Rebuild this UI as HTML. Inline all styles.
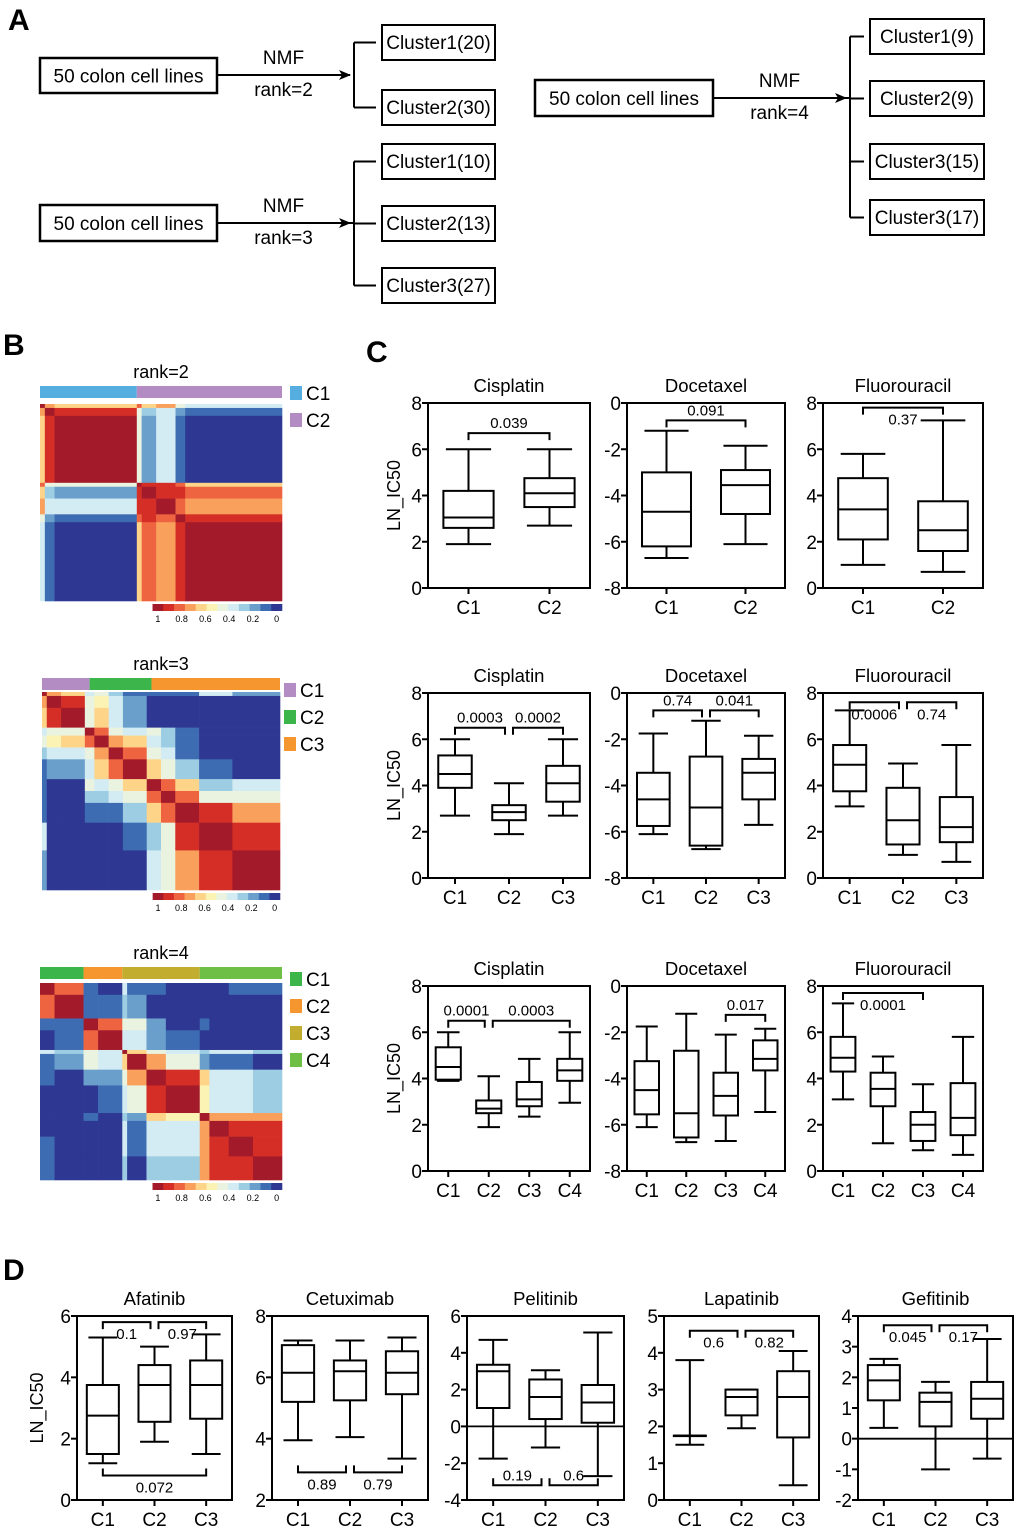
<!DOCTYPE html>
<html><head><meta charset="utf-8"><style>
body{margin:0;background:#fff}
svg{display:block;font-family:"Liberation Sans",Arial,sans-serif}
</style></head><body>
<svg id="fig" width="1020" height="1532" viewBox="0 0 1020 1532" xmlns="http://www.w3.org/2000/svg">
<defs><marker id="arr" markerWidth="12" markerHeight="10" refX="11" refY="5" orient="auto" markerUnits="userSpaceOnUse"><path d="M0,0 L12,5 L0,10 L3,5 Z" fill="#000"/></marker></defs>
<g font-weight="bold" font-size="30">
<text x="8" y="30">A</text>
<text x="3" y="355">B</text>
<text x="366" y="362">C</text>
<text x="3" y="1280">D</text>
</g>
<g id="flow" font-size="19" stroke-width="2"></g>
<g id="heat"></g>
<g id="boxes"></g>
</svg>
<script>
// ---------- Panel A data ----------
const flowGroups = [
  {rank:'rank=2', box:[40,58,177,35], arrowY:75, arrowEnd:350, brX:354, clusters:['Cluster1(20)','Cluster2(30)'], cy:[25,90], cx:382, cw:113},
  {rank:'rank=3', box:[40,205,177,36], arrowY:223, arrowEnd:350, brX:354, clusters:['Cluster1(10)','Cluster2(13)','Cluster3(27)'], cy:[144,206,268], cx:382, cw:113},
  {rank:'rank=4', box:[535,80,178,36], arrowY:98, arrowEnd:846, brX:850, clusters:['Cluster1(9)','Cluster2(9)','Cluster3(15)','Cluster3(17)'], cy:[19,81,144,200], cx:870, cw:114}
];
const NS='http://www.w3.org/2000/svg';
function mk(parent,tag,attrs,text){const e=document.createElementNS(NS,tag);for(const k in attrs)e.setAttribute(k,attrs[k]);if(text!==undefined)e.textContent=text;parent.appendChild(e);return e;}
const flow=document.getElementById('flow');
flowGroups.forEach((g,gi)=>{
  const G=mk(flow,'g',{});
  
  
  const [bx,by,bw,bh]=g.box;
  const r=mk(G,'rect',{x:bx,y:by,width:bw,height:bh,fill:'#fff',stroke:'#000','stroke-width':2.5});
  
  
  const t=mk(G,'text',{x:bx+bw/2,y:by+bh/2+7,'text-anchor':'middle','font-size':19},'50 colon cell lines');
  
  
  const a=mk(G,'line',{x1:bx+bw,y1:g.arrowY,x2:g.arrowEnd,y2:g.arrowY,stroke:'#000','stroke-width':2,'marker-end':'url(#arr)'});
  
  
  const mid=(bx+bw+g.arrowEnd)/2;
  const n=mk(G,'text',{x:mid,y:g.arrowY-11,'text-anchor':'middle','font-size':19},'NMF');
  
  
  const rk=mk(G,'text',{x:mid,y:g.arrowY+21,'text-anchor':'middle','font-size':19},g.rank);
  
  
  const ch=g.cy.map(y=>y+17.5);
  mk(G,'line',{x1:g.brX,y1:ch[0],x2:g.brX,y2:ch[ch.length-1],stroke:'#000','stroke-width':2});
  if(gi>0) mk(G,'line',{x1:g.arrowEnd,y1:g.arrowY,x2:g.brX,y2:g.arrowY,stroke:'#000','stroke-width':2});
  g.clusters.forEach((c,i)=>{
    mk(G,'line',{x1:g.brX,y1:ch[i],x2:g.cx-6,y2:ch[i],stroke:'#000','stroke-width':2});
    const cr=mk(G,'rect',{x:g.cx,y:g.cy[i],width:g.cw,height:35,fill:'#fff',stroke:'#000','stroke-width':2});
    
    
    const ct=mk(G,'text',{x:g.cx+g.cw/2,y:g.cy[i]+24,'text-anchor':'middle','font-size':19},c);
    
    
  });
});

// ---------- Panel B heatmap data ----------
const heatColors=['#a31b2a','#d52e26','#ef6440','#f8a05c','#fdd488','#fbf3b4','#eaf3e0','#d3ebf3','#9dcde3','#6a9fcc','#3e6cb2','#2e3791'];
const rank2Sizes=[1,2,17,1,3,4,2,20];
const rank2Vals=[
 [1,.75,.65,.8,.65,.75,.5,.4],
 [.75,1,.9,.45,.3,.4,.2,.15],
 [.65,.9,1,.45,.25,.35,.15,0],
 [.8,.45,.45,1,.85,.85,.8,.65],
 [.65,.3,.25,.85,1,.9,.85,.8],
 [.75,.4,.35,.85,.9,1,.8,.7],
 [.5,.2,.15,.8,.85,.8,1,.9],
 [.4,.15,0,.65,.8,.7,.9,1]];
const rank3Sizes=[1,3,5,2,3,3,5,3,3,5,7,10];
const rank3Upper=[
 [1,.7,.6,.4,.5,.3,.15,.1,.1,.15,.35,.25],
 [1,.9,.5,.55,.35,.2,0,0,0,.05,.05],
 [1,.45,.6,.4,.25,0,0,0,0,0],
 [.95,.8,.5,.35,.45,.3,.1,0,0],
 [.95,.75,.6,.4,.3,.1,0,0],
 [.95,.8,.5,.35,.1,0,0],
 [1,.6,.5,.3,.15,0],
 [.95,.8,.6,.3,.35],
 [.95,.8,.45,.5],
 [1,.85,.7],
 [1,.9],
 [1]];
const rank4Sizes=[3,6,3,5,1,4,4,7,2,4,5,6];
const rank4Upper=[
 [1,.8,.1,.05,.4,.1,.1,0,0,.05,.1,.1],
 [.95,.1,.1,.3,.2,0,0,.05,0,0,0],
 [.95,.8,.5,.45,.25,0,.1,0,0,0],
 [.95,.4,.4,.25,.1,0,0,0,0],
 [1,.6,.5,.4,.3,.4,.35,.3],
 [.95,.7,.45,.2,.15,.1,.05],
 [.95,.85,.6,.4,.35,.3],
 [1,.55,.4,.4,.3],
 [.95,.75,.7,.7],
 [1,.85,.9],
 [1,.9],
 [1]];
const rank2Bar=[['#56aee0',20],['#b48cc4',30]];
const rank3Bar=[['#b48cc4',10],['#3cb54a',13],['#f5962f',27]];
const rank4Bar=[['#3cb54a',9],['#f5962f',8],['#c2ad2e',16],['#6dbf45',17]];
const colorbarLabels=['1','0.8','0.6','0.4','0.2','0'];

function fullFromUpper(u){const n=u.length;const m=[];for(let i=0;i<n;i++){m.push([]);for(let j=0;j<n;j++){m[i].push(j>=i?u[i][j-i]:u[j][i-j]);}}return m;}
const heat=document.getElementById('heat');
function colorFor(v){let k=Math.floor((1-v)*12);if(k<0)k=0;if(k>11)k=11;return heatColors[k];}
function drawHeat(title,sizes,vals,bar,L){
  const G=mk(heat,'g',{});
  
  
  const tt=mk(G,'text',{x:(L.x0+L.x1)/2,y:L.barY-8,'text-anchor':'middle','font-size':18},title);
  
  
  const total=bar.reduce((s,b)=>s+b[1],0);
  let acc=0;
  bar.forEach((b,i)=>{
    const xa=L.x0+(L.x1-L.x0)*acc/total;acc+=b[1];const xb=L.x0+(L.x1-L.x0)*acc/total;
    const r=mk(G,'rect',{x:xa,y:L.barY,width:xb-xa,height:12,fill:b[0]});
    
    
    const lr=mk(G,'rect',{x:L.legX,y:L.legY+i*27,width:12,height:14,fill:b[0]});
    
    
    const lt=mk(G,'text',{x:L.legX+16,y:L.legY+i*27+14,'font-size':19},'C'+(i+1));
    
    
  });
  const N=sizes.reduce((s,v)=>s+v,0);
  const sx=(L.x1-L.x0)/N, sy=(L.y1-L.y0)/N;
  let ai=0;
  for(let i=0;i<sizes.length;i++){
    let aj=0;
    for(let j=0;j<sizes.length;j++){
      const c=mk(G,'rect',{x:L.x0+aj*sx,y:L.y0+ai*sy,width:sizes[j]*sx+0.3,height:sizes[i]*sy+0.3,fill:colorFor(vals[i][j])});
      
      
      aj+=sizes[j];
    }
    ai+=sizes[i];
  }
  const cbx0=L.x0+(L.x1-L.x0)*0.465, cw=(L.x1-cbx0)/12;
  heatColors.forEach((c,k)=>{
    const r=mk(G,'rect',{x:cbx0+k*cw,y:L.y1+3,width:cw+0.3,height:7,fill:c});
    
    
  });
  colorbarLabels.forEach((t,k)=>{
    const x=cbx0+cw*0.5+k*(L.x1-cbx0-cw)/5;
    const e=mk(G,'text',{x:x,y:L.y1+21,'text-anchor':'middle','font-size':9},t);
    
    
  });
}
drawHeat('rank=2',rank2Sizes,rank2Vals,rank2Bar,{x0:40,x1:282,y0:404,y1:601,barY:386,legX:290,legY:386});
drawHeat('rank=3',rank3Sizes,fullFromUpper(rank3Upper),rank3Bar,{x0:42,x1:280,y0:692,y1:890,barY:678,legX:284,legY:683});
drawHeat('rank=4',rank4Sizes,fullFromUpper(rank4Upper),rank4Bar,{x0:40,x1:282,y0:983,y1:1180,barY:967,legX:290,legY:972});

// ---------- Panel C/D boxplot data: [min,q1,median,q3,max] ----------
const cats2=['C1','C2'], cats3=['C1','C2','C3'], cats4=['C1','C2','C3','C4'];
const ticksPos=[0,2,4,6,8], ticksNeg=[-8,-6,-4,-2,0];
const cis2=[[1.9,2.6,3.05,4.2,6.0],[2.7,3.5,4.1,4.75,6.0]];
const doc2=[[-6.7,-6.2,-4.7,-3.0,-1.2],[-6.1,-4.8,-3.55,-2.9,-1.85]];
const flu2=[[1.0,2.1,3.4,4.75,5.8],[0.7,1.6,2.5,3.75,7.25]];
const cis3=[[2.7,3.9,4.5,5.3,6.0],[1.9,2.5,2.85,3.15,4.1],[2.7,3.3,4.1,4.85,6.0]];
const doc3=[[-6.1,-5.75,-4.6,-3.45,-1.75],[-6.75,-6.6,-4.95,-2.75,-1.2],[-5.7,-4.6,-3.45,-2.85,-1.85]];
const flu3=[[3.1,3.75,4.9,5.75,7.25],[1.0,1.45,2.5,3.9,4.95],[0.7,1.55,2.2,3.5,5.75]];
const cis4=[[3.9,3.95,4.5,5.35,6.0],[1.9,2.5,2.7,3.05,4.1],[2.35,2.8,3.1,3.85,4.85],[2.95,3.9,4.35,4.85,6.0]];
const doc4=[[-6.1,-5.55,-4.5,-3.25,-1.75],[-6.75,-6.55,-5.5,-2.8,-1.2],[-6.7,-5.6,-4.75,-3.75,-2.1],[-5.45,-3.65,-3.15,-2.35,-1.85]];
const flu4=[[3.1,4.3,4.9,5.8,7.25],[1.2,2.8,3.55,4.25,4.95],[0.9,1.3,2.0,2.55,3.75],[0.7,1.55,2.3,3.8,5.8]];
const afa=[[1.2,1.5,2.75,3.75,5.3],[1.9,2.55,3.75,4.4,5.0],[1.5,2.65,3.75,4.55,5.4]];
const cet=[[3.95,5.2,6.15,7.05,7.2],[4.05,5.25,6.2,6.55,7.2],[3.35,5.45,6.15,6.85,7.3]];
const pel=[[-1.75,1.0,3.0,3.35,4.7],[-1.15,0.4,1.6,2.55,3.05],[-2.7,0.2,1.3,2.25,5.1]];
const lap=[[1.5,1.75,1.75,1.75,3.8],[1.95,2.3,2.8,3.0,3.0],[0.4,1.7,2.8,3.5,4.05]];
const gef=[[0.35,1.25,1.9,2.4,2.6],[-1.0,0.4,1.2,1.5,1.85],[-0.65,0.65,1.3,1.85,3.25]];
// brackets: [fromCat, toCat, value, label, labelSide, tickDir]
const cis2Br=[[0,1,6.7,'0.039','above','down']];
const doc2Br=[[0,1,-0.75,'0.091','above','down']];
const flu2Br=[[0,1,7.8,'0.37','below','down']];
const cis3Br=[[0,1,6.5,'0.0003','above','down'],[1,2,6.5,'0.0002','above','down']];
const doc3Br=[[0,1,-0.75,'0.74','above','down'],[1,2,-0.75,'0.041','above','down']];
const flu3Br=[[0,1,7.6,'0.0006','below','down'],[1,2,7.6,'0.74','below','down']];
const cis4Br=[[0,1,6.5,'0.0001','above','down'],[1,3,6.5,'0.0003','above','down']];
const doc4Br=[[2,3,-1.25,'0.017','above','down']];
const flu4Br=[[0,2,7.7,'0.0001','below','down']];
const afaBr=[[0,1,5.8,'0.1','below','down'],[1,2,5.8,'0.97','below','down'],[0,2,0.8,'0.072','below','up']];
const cetBr=[[0,1,2.9,'0.89','below','up'],[1,2,2.9,'0.79','below','up']];
const pelBr=[[0,1,-3.2,'0.19','above','up'],[1,2,-3.2,'0.6','above','up']];
const lapBr=[[0,1,4.6,'0.6','below','down'],[1,2,4.6,'0.82','below','down']];
const gefBr=[[0,1,3.7,'0.045','below','down'],[1,2,3.7,'0.17','below','down']];

const boxes=document.getElementById('boxes');
function panel(o){
  const G=mk(boxes,'g',{});
  
  
  const lo=o.ticks[0], hi=o.ticks[o.ticks.length-1];
  const y=v=>o.y1-(v-lo)/(hi-lo)*(o.y1-o.y0);
  const n=o.cats.length, w=o.x1-o.x0;
  const cx=i=>o.x0+w*(i+0.5)/n;
  const bw=0.62*w/n, capw=bw*0.45;
  const tt=mk(G,'text',{x:(o.x0+o.x1)/2,y:o.y0-11,'text-anchor':'middle','font-size':18.5},o.title);
  
  
  const fr=mk(G,'rect',{x:o.x0,y:o.y0,width:w,height:o.y1-o.y0,fill:'none',stroke:'#000','stroke-width':2});
  
  
  if(o.zero){const z=mk(G,'line',{x1:o.x0,x2:o.x1,y1:y(0),y2:y(0),stroke:'#000','stroke-width':1.8});
    
    }
  o.ticks.forEach(t=>{
    mk(G,'line',{x1:o.x0-6,x2:o.x0,y1:y(t),y2:y(t),stroke:'#000','stroke-width':2});
    const e=mk(G,'text',{x:o.x0-6,y:y(t)+7,'text-anchor':'end','font-size':19},String(t));
    
    
  });
  if(o.ylab){const yl=mk(G,'text',{x:0,y:0,'text-anchor':'middle','font-size':18,transform:`translate(${o.ylabX},${(o.y0+o.y1)/2}) rotate(-90)`},'LN_IC50');
    
    }
  o.cats.forEach((c,i)=>{
    mk(G,'line',{x1:cx(i),x2:cx(i),y1:o.y1,y2:o.y1+6,stroke:'#000','stroke-width':2});
    const e=mk(G,'text',{x:cx(i),y:o.y1+26,'text-anchor':'middle','font-size':19},c);
    
    
    const d=o.data[i], x=cx(i);
    const bg=mk(G,'g',{stroke:'#000','stroke-width':2,fill:'none'});
    
    
    mk(bg,'line',{x1:x,x2:x,y1:y(d[0]),y2:y(d[1])});
    mk(bg,'line',{x1:x,x2:x,y1:y(d[3]),y2:y(d[4])});
    mk(bg,'line',{x1:x-capw,x2:x+capw,y1:y(d[0]),y2:y(d[0])});
    mk(bg,'line',{x1:x-capw,x2:x+capw,y1:y(d[4]),y2:y(d[4])});
    mk(bg,'rect',{x:x-bw/2,y:y(d[3]),width:bw,height:Math.max(0.5,y(d[1])-y(d[3])),fill:'#fff'});
    mk(bg,'line',{x1:x-bw/2,x2:x+bw/2,y1:y(d[2]),y2:y(d[2])});
  });
  o.br.forEach(b=>{
    const [i,j,v,lab,side,dir]=b;
    const shL=o.br.some(q=>q!==b&&q[1]===i&&q[2]===v)?4:0;
    const shR=o.br.some(q=>q!==b&&q[0]===j&&q[2]===v)?4:0;
    const xa=cx(i)+shL, xb=cx(j)-shR, yy=y(v), tk=dir==='down'?7:-7;
    const p=mk(G,'path',{d:`M${xa},${yy+tk} L${xa},${yy} L${xb},${yy} L${xb},${yy+tk}`,fill:'none',stroke:'#000','stroke-width':2});
    
    
    const ty=side==='above'?yy-5:yy+17;
    const t=mk(G,'text',{x:(xa+xb)/2,y:ty,'text-anchor':'middle','font-size':15},lab);
    
    
  });
}
const rowsC=[[403,588],[693,878],[986,1171]];
const colsC=[[428,590],[627,785],[823,983]];
const cSets=[[cats2,cis2,doc2,flu2,cis2Br,doc2Br,flu2Br],[cats3,cis3,doc3,flu3,cis3Br,doc3Br,flu3Br],[cats4,cis4,doc4,flu4,cis4Br,doc4Br,flu4Br]];
cSets.forEach((s,r)=>{
  const [cats,c,d,f,cb,db,fb]=s;
  panel({name:'cisplatin-row'+(r+1),title:'Cisplatin',cats:cats,data:c,br:cb,ticks:ticksPos,x0:colsC[0][0],x1:colsC[0][1],y0:rowsC[r][0],y1:rowsC[r][1],ylab:true,ylabX:400});
  panel({name:'docetaxel-row'+(r+1),title:'Docetaxel',cats:cats,data:d,br:db,ticks:ticksNeg,x0:colsC[1][0],x1:colsC[1][1],y0:rowsC[r][0],y1:rowsC[r][1]});
  panel({name:'fluorouracil-row'+(r+1),title:'Fluorouracil',cats:cats,data:f,br:fb,ticks:ticksPos,x0:colsC[2][0],x1:colsC[2][1],y0:rowsC[r][0],y1:rowsC[r][1]});
});
const yD=[1316,1500];
panel({name:'afatinib',title:'Afatinib',cats:cats3,data:afa,br:afaBr,ticks:[0,2,4,6],x0:77,x1:232,y0:yD[0],y1:yD[1],ylab:true,ylabX:43});
panel({name:'cetuximab',title:'Cetuximab',cats:cats3,data:cet,br:cetBr,ticks:[2,4,6,8],x0:272,x1:428,y0:yD[0],y1:yD[1]});
panel({name:'pelitinib',title:'Pelitinib',cats:cats3,data:pel,br:pelBr,ticks:[-4,-2,0,2,4,6],x0:467,x1:624,y0:yD[0],y1:yD[1],zero:true});
panel({name:'lapatinib',title:'Lapatinib',cats:cats3,data:lap,br:lapBr,ticks:[0,1,2,3,4,5],x0:664,x1:819,y0:yD[0],y1:yD[1]});
panel({name:'gefitinib',title:'Gefitinib',cats:cats3,data:gef,br:gefBr,ticks:[-2,-1,0,1,2,3,4],x0:858,x1:1013,y0:yD[0],y1:yD[1],zero:true});
</script>
</body></html>
